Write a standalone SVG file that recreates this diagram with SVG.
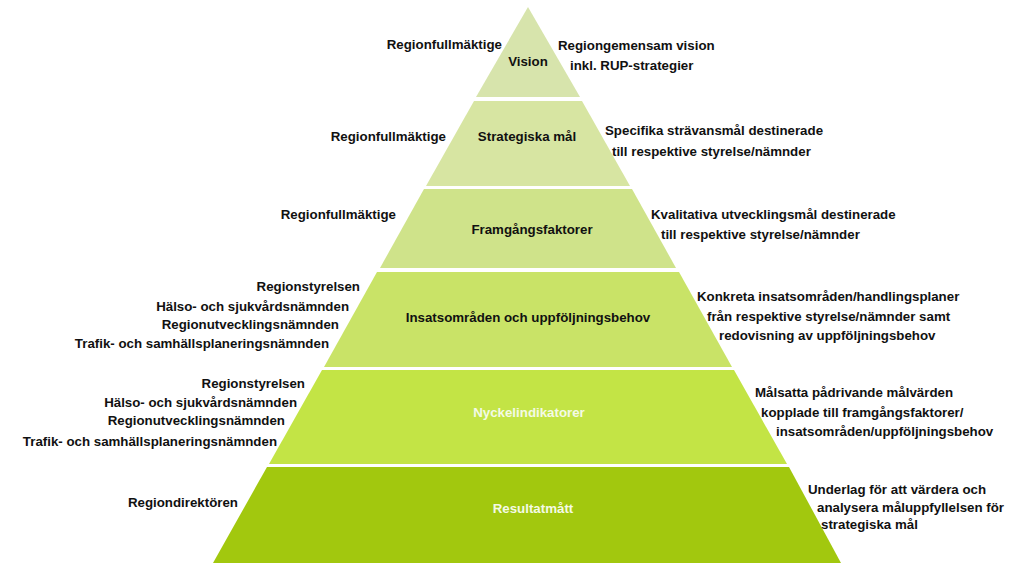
<svg xmlns="http://www.w3.org/2000/svg" width="1024" height="576" viewBox="0 0 1024 576">
<style>
text{font-family:"Liberation Sans",Arial,sans-serif;font-weight:bold;font-size:13.3px;fill:#111}
.c{text-anchor:middle}
.e{text-anchor:end}
.w{fill:#f4fae6}
</style>
<rect width="1024" height="576" fill="#ffffff"/>
<g id="vision">
<polygon points="528,7 476,97 580,97" fill="#d7e4ac"/>
<text class="c" x="528" y="66">Vision</text>
<text class="e" x="502" y="49">Regionfullmäktige</text>
<text x="558" y="50">Regiongemensam vision</text>
<text x="570" y="70">inkl. RUP-strategier</text>
</g>
<g id="strategiska">
<polygon points="474,101 582,101 630,186 426,186" fill="#d7e5a2"/>
<text class="c" x="527" y="141">Strategiska mål</text>
<text class="e" x="446" y="141">Regionfullmäktige</text>
<text x="605" y="135">Specifika strävansmål destinerade</text>
<text x="612" y="156">till respektive styrelse/nämnder</text>
</g>
<g id="framgang">
<polygon points="424,189 632,189 676,268 380,268" fill="#cfe38a"/>
<text class="c" x="532" y="234">Framgångsfaktorer</text>
<text class="e" x="396" y="219">Regionfullmäktige</text>
<text x="651" y="219">Kvalitativa utvecklingsmål destinerade</text>
<text x="661" y="239">till respektive styrelse/nämnder</text>
</g>
<g id="insats">
<polygon points="377,272 679,272 732,367 324,367" fill="#c9e367"/>
<text class="c" x="528" y="322">Insatsområden och uppföljningsbehov</text>
<text class="e" x="360" y="291">Regionstyrelsen</text>
<text class="e" x="349" y="311">Hälso- och sjukvårdsnämnden</text>
<text class="e" x="339" y="329">Regionutvecklingsnämnden</text>
<text class="e" x="329" y="348">Trafik- och samhällsplaneringsnämnden</text>
<text x="697" y="301">Konkreta insatsområden/handlingsplaner</text>
<text x="707" y="321">från respektive styrelse/nämnder samt</text>
<text x="719" y="340">redovisning av uppföljningsbehov</text>
</g>
<g id="nyckel">
<polygon points="322,370 734,370 787,464 269,464" fill="#c3e445"/>
<text class="c w" x="529" y="417">Nyckelindikatorer</text>
<text class="e" x="305" y="388">Regionstyrelsen</text>
<text class="e" x="297" y="407">Hälso- och sjukvårdsnämnden</text>
<text class="e" x="285" y="425">Regionutvecklingsnämnden</text>
<text class="e" x="277" y="446">Trafik- och samhällsplaneringsnämnden</text>
<text x="755" y="397">Målsatta pådrivande målvärden</text>
<text x="761" y="417">kopplade till framgångsfaktorer/</text>
<text x="776" y="436">insatsområden/uppföljningsbehov</text>
</g>
<g id="resultat">
<polygon points="267,467 789,467 841,563 213,563" fill="#a2c80e"/>
<text class="c w" x="533" y="513">Resultatmått</text>
<text class="e" x="238" y="507">Regiondirektören</text>
<text x="808" y="494">Underlag för att värdera och</text>
<text x="817" y="512">analysera måluppfyllelsen för</text>
<text x="821" y="529">strategiska mål</text>
</g>
<g id="connectors"/>
</svg>
